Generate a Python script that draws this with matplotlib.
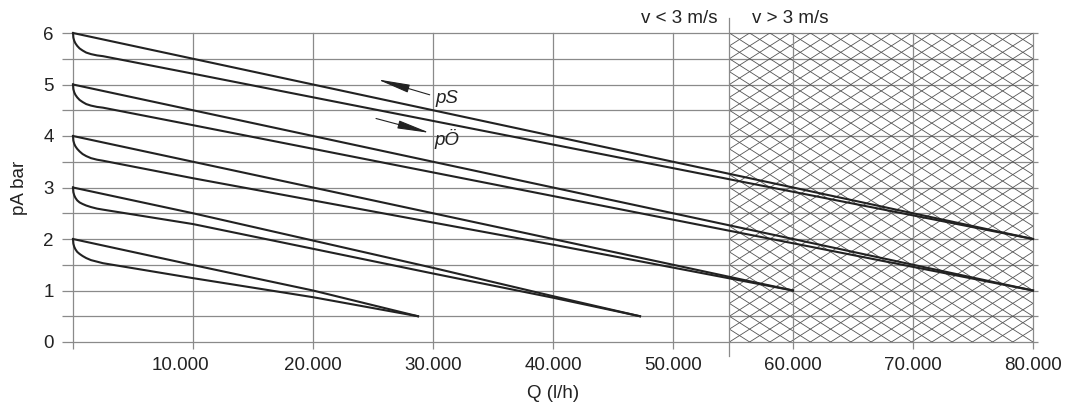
import matplotlib.pyplot as plt
from matplotlib.patches import Rectangle
from matplotlib.collections import LineCollection
from matplotlib.transforms import ScaledTranslation

plt.rcParams['font.family'] = ['Liberation Sans', 'DejaVu Sans']

# pS (upper line) and pO (lower line with knee) for each set pressure
s6_q = [0, 80000]
s6_p = [6.0, 2.0]
o6_q = [0, 30, 100, 200, 350, 550, 800, 1100, 1500, 2000, 2500, 10000, 80000]
o6_p = [6.0, 5.91, 5.85, 5.80, 5.75, 5.70, 5.66, 5.62, 5.59, 5.565, 5.55, 5.21, 2.0]

s5_q = [0, 80000]
s5_p = [5.0, 1.0]
o5_q = [0, 30, 100, 200, 350, 550, 800, 1100, 1500, 2000, 2500, 10000, 80000]
o5_p = [5.0, 4.91, 4.85, 4.80, 4.75, 4.70, 4.66, 4.62, 4.59, 4.565, 4.55, 4.21, 1.0]

s4_q = [0, 10000, 40000, 60000]
s4_p = [4.0, 3.5, 2.0, 1.0]
o4_q = [0, 30, 100, 200, 350, 550, 800, 1100, 1500, 2000, 2500, 10000, 40000, 60000]
o4_p = [4.0, 3.91, 3.85, 3.80, 3.75, 3.70, 3.65, 3.61, 3.57, 3.54, 3.52, 3.18, 1.89, 1.0]

s3_q = [0, 10000, 30000, 40000, 47250]
s3_p = [3.0, 2.5, 1.44, 0.89, 0.5]
o3_q = [0, 30, 100, 200, 350, 550, 800, 1100, 1500, 2000, 2500, 10000, 30000, 40000, 47250]
o3_p = [3.0, 2.91, 2.85, 2.80, 2.75, 2.71, 2.68, 2.65, 2.62, 2.59, 2.57, 2.29, 1.33, 0.86, 0.5]

s2_q = [0, 10000, 20000, 28750]
s2_p = [2.0, 1.495, 1.0, 0.5]
o2_q = [0, 30, 100, 200, 350, 550, 800, 1100, 1500, 2000, 2500, 10000, 20000, 28750]
o2_p = [2.0, 1.91, 1.85, 1.80, 1.75, 1.71, 1.67, 1.63, 1.59, 1.56, 1.53, 1.24, 0.87, 0.5]

x_ticks = [0, 10000, 20000, 30000, 40000, 50000, 60000, 70000, 80000]
x_labels = ['', '10.000', '20.000', '30.000', '40.000', '50.000', '60.000', '70.000', '80.000']
y_ticks = [0, 0.5, 1, 1.5, 2, 2.5, 3, 3.5, 4, 4.5, 5, 5.5, 6]
y_labels = ['0', '', '1', '', '2', '', '3', '', '4', '', '5', '', '6']

v_limit = 54700  # v = 3 m/s

grid_c = '#8a8a8a'
line_c = '#222222'
fs = 13.5

fig = plt.figure(figsize=(10.65, 4.08), dpi=100)
ax = fig.add_axes([73 / 1065, 1 - 342 / 408, 960 / 1065, 309 / 408])
ax.set_xlim(0, 80000)
ax.set_ylim(0, 6)
for sp in ax.spines.values():
    sp.set_visible(False)

ax.set_xticks(x_ticks)
ax.set_xticklabels(x_labels)
ax.set_yticks(y_ticks)
ax.set_yticklabels(y_labels)
ax.tick_params(axis='y', length=8, width=0.9, color=grid_c, pad=6, labelsize=fs, labelcolor='#222')
ax.tick_params(axis='x', length=5, width=0.9, color=grid_c, pad=6, labelsize=fs, labelcolor='#222')
# the first label sits a bit left of its grid line in the original
lbl = ax.get_xticklabels()[1]
lbl.set_transform(lbl.get_transform() + ScaledTranslation(-0.13, 0, fig.dpi_scale_trans))

ax.grid(True, axis='x', color=grid_c, lw=0.9)
for gl in ax.get_xgridlines():
    gl.set_clip_on(False)
ax.hlines(y_ticks, 0, 80400, color=grid_c, lw=0.9, clip_on=False, zorder=1)

# hatched region v > 3 m/s
rect = Rectangle((v_limit, 0), 80000 - v_limit, 6, fill=False, lw=0)
ax.add_patch(rect)
w = (80000 - v_limit) / 15
h = 0.25
s = h / w
segs = []
for k in range(-18, 42):
    c = 6 - k * h
    segs.append([(v_limit, c), (80000, c + s * (80000 - v_limit))])
    segs.append([(v_limit, c), (80000, c - s * (80000 - v_limit))])
lc = LineCollection(segs, colors='#555555', linewidths=0.6, zorder=1.5)
ax.add_collection(lc)
lc.set_clip_path(rect)
ax.plot([v_limit, v_limit], [-0.27, 6.29], color=grid_c, lw=0.9, clip_on=False)

ax.text(53667, 6.19, 'v < 3 m/s', ha='right', va='baseline', fontsize=fs, color='#222')
ax.text(56583, 6.19, 'v > 3 m/s', ha='left', va='baseline', fontsize=fs, color='#222')

for q, p in [(s6_q, s6_p), (o6_q, o6_p), (s5_q, s5_p), (o5_q, o5_p),
             (s4_q, s4_p), (o4_q, o4_p), (s3_q, s3_p), (o3_q, o3_p),
             (s2_q, s2_p), (o2_q, o2_p)]:
    ax.plot(q, p, color=line_c, lw=1.5, clip_on=False, zorder=3)

arrow = dict(arrowstyle='-|>,head_length=2.0,head_width=0.25', color=line_c,
             lw=0.8, shrinkA=0, shrinkB=0, mutation_scale=10)
ax.annotate('', xy=(25358, 5.10), xytext=(29725, 4.80), arrowprops=arrow)
ax.annotate('', xy=(29750, 4.06), xytext=(25250, 4.34), arrowprops=arrow)
ax.text(30167, 4.64, 'pS', style='italic', fontsize=fs, va='baseline', color='#222')
ax.text(30083, 3.83, 'pÖ', style='italic', fontsize=fs, va='baseline', color='#222')

ax.set_xlabel('Q (l/h)', fontsize=fs, labelpad=8, color='#222')
ax.set_ylabel('pA bar', fontsize=fs, labelpad=11, color='#222')

fig.savefig('out.png', dpi=100)
